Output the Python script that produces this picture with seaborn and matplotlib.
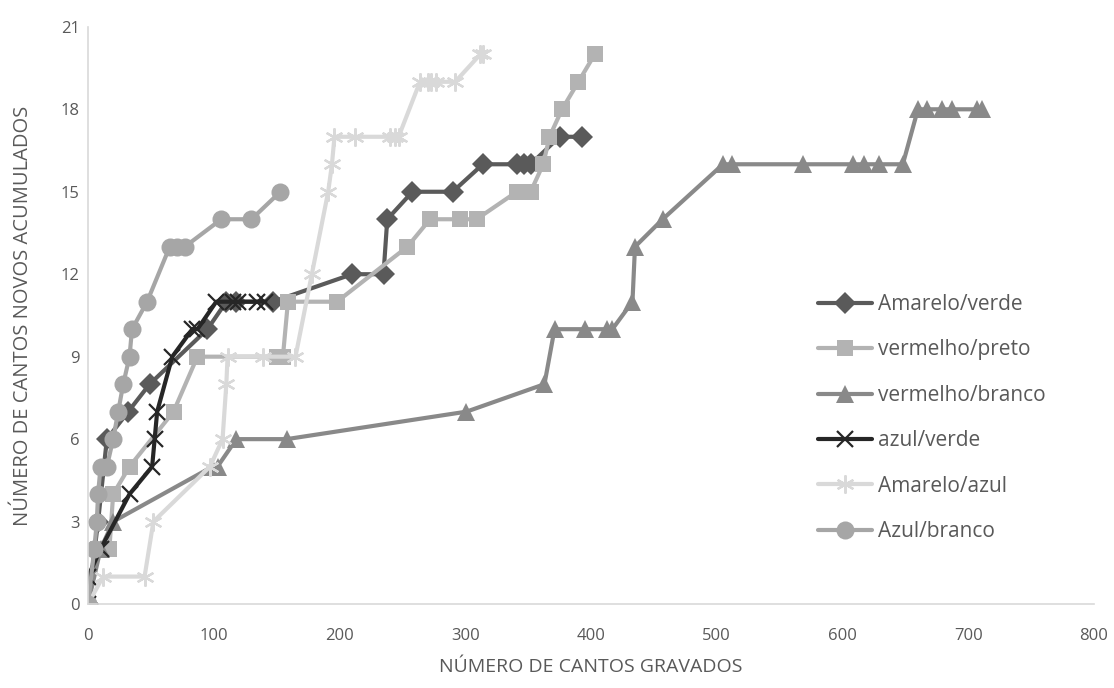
import matplotlib.pyplot as plt
import seaborn as sns
import pandas as pd

# --- data ---
amarelo_verde_x = [0, 8, 15, 32, 49, 95, 110, 118, 147, 210, 235, 238, 258, 290, 314, 341, 347, 352, 375, 393]
amarelo_verde_y = [0, 3, 6, 7, 8, 10, 11, 11, 11, 12, 12, 14, 15, 15, 16, 16, 16, 16, 17, 17]

vermelho_preto_x = [0, 8, 17, 20, 33, 68, 87, 150, 155, 159, 198, 254, 272, 296, 309, 341, 352, 362, 367, 377, 390, 403]
vermelho_preto_y = [0, 2, 2, 4, 5, 7, 9, 9, 9, 11, 11, 13, 14, 14, 14, 15, 15, 16, 17, 18, 19, 20]

vermelho_branco_x = [0, 10, 20, 99, 103, 118, 158, 301, 363, 371, 395, 413, 417, 433, 435, 457, 505, 512,
                     569, 608, 617, 629, 648, 660, 667, 679, 687, 707, 711]
vermelho_branco_y = [0, 2, 3, 5, 5, 6, 6, 7, 8, 10, 10, 10, 10, 11, 13, 14, 16, 16,
                     16, 16, 16, 16, 16, 18, 18, 18, 18, 18, 18]

azul_verde_x = [0, 0, 10, 33, 51, 53, 55, 67, 83, 87, 102, 115, 119, 134, 141]
azul_verde_y = [0, 1, 2, 4, 5, 6, 7, 9, 10, 10, 11, 11, 11, 11, 11]

amarelo_azul_x = [0, 12, 45, 52, 97, 107, 110, 111, 139, 165, 178, 191, 194, 196, 212, 240, 244, 247,
                  264, 270, 273, 277, 292, 312, 314]
amarelo_azul_y = [0, 1, 1, 3, 5, 6, 8, 9, 9, 9, 12, 15, 16, 17, 17, 17, 17, 17,
                  19, 19, 19, 19, 19, 20, 20]

azul_branco_x = [0, 5, 7, 8, 10, 15, 20, 24, 28, 33, 35, 47, 65, 71, 77, 106, 130, 153]
azul_branco_y = [0, 2, 3, 4, 5, 5, 6, 7, 8, 9, 10, 11, 13, 13, 13, 14, 14, 15]

series = [
    ("Amarelo/verde", amarelo_verde_x, amarelo_verde_y),
    ("vermelho/preto", vermelho_preto_x, vermelho_preto_y),
    ("vermelho/branco", vermelho_branco_x, vermelho_branco_y),
    ("azul/verde", azul_verde_x, azul_verde_y),
    ("Amarelo/azul", amarelo_azul_x, amarelo_azul_y),
    ("Azul/branco", azul_branco_x, azul_branco_y),
]

# style per series (colour, marker, marker size, marker edge width)
styles = {
    "Amarelo/verde": dict(color="#5a5a5a", marker="D", ms=11, mew=0),
    "vermelho/preto": dict(color="#b3b3b3", marker="s", ms=12, mew=0),
    "vermelho/branco": dict(color="#898989", marker="^", ms=12.5, mew=0),
    "azul/verde": dict(color="#262626", marker="x", ms=11, mew=1.6),
    "Amarelo/azul": dict(color="#d9d9d9", marker=(6, 2, 0), ms=13, mew=1.6),
    "Azul/branco": dict(color="#a6a6a6", marker="o", ms=13, mew=0),
}

sns.set_style("white")
plt.rcParams['font.family'] = ['Open Sans', 'DejaVu Sans']

fig = plt.figure(figsize=(11.14, 6.88), dpi=100)
ax = fig.add_axes([0.079, 0.122, 0.903, 0.839])

for name, xs, ys in series:
    df = pd.DataFrame({"x": xs, "y": ys})
    st = styles[name]
    sns.lineplot(data=df, x="x", y="y", ax=ax, sort=False, estimator=None,
                 color=st["color"], marker=st["marker"], markersize=st["ms"],
                 markeredgewidth=st["mew"], markeredgecolor=st["color"],
                 linewidth=3.0, label=name)

ax.set_xlim(0, 800)
ax.set_ylim(0, 21)
ax.set_xticks(range(0, 801, 100))
ax.set_yticks(range(0, 22, 3))
ax.tick_params(axis='both', labelsize=12, colors="#595959", length=0)
ax.tick_params(axis='x', pad=17)
ax.tick_params(axis='y', pad=6)

for side in ["top", "right"]:
    ax.spines[side].set_visible(False)
for side in ["left", "bottom"]:
    ax.spines[side].set_color("#d9d9d9")
    ax.spines[side].set_linewidth(1.2)

ax.set_xlabel("NÚMERO DE CANTOS GRAVADOS", fontsize=14, color="#595959", labelpad=10)
ax.set_ylabel("NÚMERO DE CANTOS NOVOS ACUMULADOS", fontsize=14.5, color="#595959", labelpad=20)

leg = ax.legend(loc="upper left", bbox_to_anchor=(0.7256, 0.537), frameon=False,
                fontsize=15, handlelength=2.6, handletextpad=0.3, labelspacing=1.17,
                borderaxespad=0, borderpad=0)
for t in leg.get_texts():
    t.set_color("#595959")

plt.savefig("out.png", dpi=100)
